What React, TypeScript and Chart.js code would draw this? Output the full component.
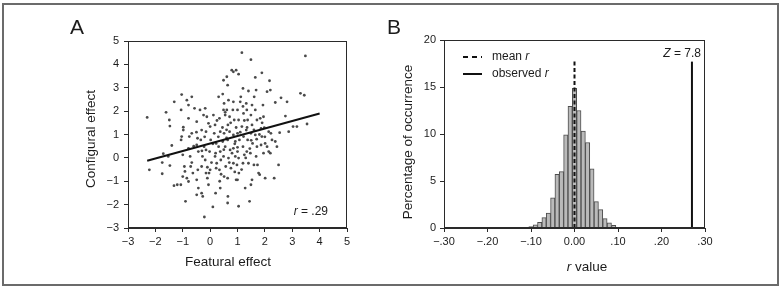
import { useEffect, useRef } from "react";
import { Chart, registerables } from "chart.js";
Chart.register(...registerables);

// ---------- Panel A data ----------
const featuralEffect = [
  -2.3, -2.22, -1.71, -1.75, -1.75, -1.61, -1.49, -1.47, -1.4, -1.53, -1.47, -1.31, -1.32, -1.2, -1.07,
  -1.04, -1.06, -0.98, -0.98, -1.04, -1.06, -1.0, -0.94, -0.92, -1.0, -0.9, -0.85, -0.79, -0.67, -0.79,
  -0.76, -0.67, -0.79, -0.73, -0.67, -0.71, -0.63, -0.85, -0.79, -0.57, -0.49, -0.46, -0.49, -0.43, -0.45,
  -0.49, -0.43, -0.49, -0.31, -0.27, -0.37, -0.24, -0.31, -0.34, -0.22, -0.28, -0.31, -0.18, -0.12, -0.06,
  -0.15, -0.15, -0.18, -0.15, -0.1, -0.06, -0.21, 0.0, 0.02, -0.02, 0.0, -0.04, 0.1, 0.12, 0.18,
  0.15, 0.22, 0.18, 0.24, 0.22, 0.2, 0.31, 0.34, 0.37, 0.31, 0.37, 0.39, 0.34, 0.37, 0.49,
  0.46, 0.51, 0.49, 0.55, 0.51, 0.46, 0.55, 0.49, 0.57, 0.51, 0.61, 0.64, 0.67, 0.61, 0.71,
  0.65, 0.71, 0.64, 0.73, 0.67, 0.76, 0.64, 0.65, 0.64, 0.79, 0.85, 0.95, 0.83, 0.88, 0.85,
  0.92, 0.85, 0.92, 0.85, 0.95, 1.0, 1.04, 1.0, 1.07, 1.0, 1.04, 0.98, 1.05, 1.0, 1.04,
  1.04, 1.1, 1.12, 1.16, 1.2, 1.22, 1.16, 1.22, 1.2, 1.25, 1.2, 1.28, 1.32, 1.34, 1.37,
  1.32, 1.37, 1.34, 1.4, 1.44, 1.4, 1.49, 1.53, 1.49, 1.53, 1.49, 1.55, 1.47, 1.53, 1.49,
  1.65, 1.68, 1.61, 1.65, 1.71, 1.65, 1.71, 1.68, 1.73, 1.77, 1.81, 1.83, 1.86, 1.89, 1.86,
  1.89, 1.93, 1.95, 1.98, 2.01, 1.95, 2.01, 2.08, 2.14, 2.08, 2.14, 2.17, 2.2, 2.22, 2.26,
  2.38, 2.38, 2.34, 2.44, 2.5, 2.54, 2.59, 2.75, 2.81, 2.87, 3.03, 3.17, 3.3, 3.44, 3.48,
  3.54, 0.3, 0.45, 0.6, 0.75, 0.9, 1.1, 1.25, 1.45, 1.6, 1.8, 0.1, 0.25, 0.55, 0.8,
  1.15, 1.35, 1.7, 1.9, 2.0, 0.4, 0.7, 0.95, 1.3, -0.2, -0.5, -0.6, -0.3, 0.05, 0.5,
  1.0, 1.5, 1.2, 0.85, 0.6, 0.2, -0.1, 0.35, 0.9, 1.6, 2.2,
];
const configuralEffect = [
  1.73, -0.51, 0.18, -0.2, -0.68, 1.95, 1.62, 1.36, 0.53, 0.06, -0.33, 2.4, -1.19, -1.15, -1.15,
  2.71, 2.05, 1.31, 1.19, 0.91, 0.77, 0.13, -0.37, -0.58, -0.8, -1.86, 2.47, 2.26, 2.61, 1.69,
  0.91, 1.05, 0.41, 0.06, -0.2, -0.37, -0.65, -0.87, -1.01, 2.12, 1.55, 0.84, 0.55, 0.27, -0.51,
  -0.94, -1.29, -1.58, -1.51, -1.65, 2.05, 1.83, 1.19, 0.77, 0.48, 0.06, -0.37, 2.12, 1.76, 1.48,
  1.12, 0.34, -0.09, -0.65, -0.87, -1.15, -2.53, 1.34, 0.77, 0.27, -0.51, -0.65, -2.1, 1.83, 1.41,
  1.05, 0.62, 0.06, -0.23, -0.44, -1.51, 2.61, 1.69, 1.12, 0.48, 0.27, -0.09, -0.51, -1.29, 3.32,
  2.73, 2.33, 2.05, 1.83, 1.05, 0.7, 0.48, 0.06, -0.37, -0.8, 3.47, 3.11, 2.47, 2.05, 1.76,
  1.41, 1.12, 0.77, 0.34, -0.01, -0.44, -0.87, -1.65, -1.93, 3.75, 3.68, 3.75, 2.05, 1.62, 0.98,
  0.7, 0.41, 0.06, -0.23, -0.94, 2.05, 1.62, 1.05, 0.77, 0.27, -0.01, -0.3, -0.65, -0.94, -2.07,
  3.58, 2.4, 2.61, 4.5, 2.97, 1.9, 1.34, 0.91, 0.48, 0.13, -0.23, -1.29, 2.33, 2.05, 1.62,
  1.19, 0.77, 0.27, -0.23, -1.86, 2.86, 4.2, 2.26, 1.83, 1.41, 1.05, 0.62, 0.2, -0.94, -1.15,
  3.44, 2.9, 2.61, 2.05, 1.62, 0.98, 0.48, 0.06, -0.3, -0.65, -0.72, 1.69, 1.26, 0.91, 0.55,
  3.64, 2.26, 1.76, 1.29, 0.62, 0.2, -0.87, 2.83, 1.12, 0.48, 0.27, 3.3, 2.9, 1.05, 0.77,
  2.37, 0.7, -0.87, 0.48, -0.3, 1.08, 2.57, 1.79, 2.4, 1.12, 1.34, 1.34, 2.76, 2.68, 4.36,
  1.45, 0.9, 1.3, 0.85, 1.5, 0.6, 1.1, 1.6, 0.4, 1.2, 1.0, 0.6, 1.6, 1.95, 0.2,
  -0.5, 1.3, 0.8, 1.5, 0.9, -0.7, -0.2, 1.3, 0.0, 0.9, 1.1, 0.5, 0.3, -0.2, 0.35,
  0.45, 0.75, 2.2, 2.4, 1.2, 0.2, -0.4, -1.0, -0.6, -0.3, 0.2,
];
const regressionX = [-2.3, 4.0];
const regressionY = [-0.12, 1.9];
const scatterTicks = [-3, -2, -1, 0, 1, 2, 3, 4, 5];

// ---------- Panel B data ----------
const rBins = [
  -0.1, -0.09, -0.08, -0.07, -0.06, -0.05, -0.04, -0.03, -0.02, -0.01, 0.0,
  0.01, 0.02, 0.03, 0.04, 0.05, 0.06, 0.07, 0.08, 0.09, 0.1,
];
const occurrence = [
  0.15, 0.35, 0.6, 1.1, 1.6, 3.2, 5.7, 6.0, 9.9, 12.95, 14.85,
  12.5, 10.3, 9.1, 6.3, 2.8, 1.95, 1.0, 0.55, 0.28, 0.05,
];
const meanR = 0.0;
const observedR = 0.27;
const markerTop = 17.7;
const rTicks = [-0.3, -0.2, -0.1, 0, 0.1, 0.2, 0.3];
const rTickLabels = ["\u2212.30", "\u2212.20", "\u2212.10", "0.00", ".10", ".20", ".30"];
const occurrenceTicks = [0, 5, 10, 15, 20];

const FONT = "Arial, 'Liberation Sans', Helvetica, sans-serif";
const TEXT = "#1c1c1c";
const AXIS = "#2a2a2a";

type Run = { t: string; i?: boolean };
function drawRuns(
  ctx: CanvasRenderingContext2D,
  runs: Run[],
  x: number,
  y: number,
  size: number,
  align: "left" | "center" | "right",
  rotate = 0
) {
  ctx.save();
  ctx.translate(x, y);
  if (rotate) ctx.rotate(rotate);
  ctx.textBaseline = "middle";
  ctx.textAlign = "left";
  ctx.fillStyle = TEXT;
  const fonts = runs.map((r) => `${r.i ? "italic " : ""}${size}px ${FONT}`);
  let total = 0;
  const widths = runs.map((r, k) => {
    ctx.font = fonts[k];
    const w = ctx.measureText(r.t).width;
    total += w;
    return w;
  });
  let cx = align === "left" ? 0 : align === "center" ? -total / 2 : -total;
  runs.forEach((r, k) => {
    ctx.font = fonts[k];
    ctx.fillText(r.t, cx, 0);
    cx += widths[k];
  });
  ctx.restore();
}

function frame(chart: any) {
  const { ctx, chartArea: a } = chart;
  ctx.save();
  ctx.strokeStyle = AXIS;
  ctx.lineWidth = 1;
  ctx.strokeRect(Math.round(a.left) + 0.5, Math.round(a.top) + 0.5, Math.round(a.right - a.left) - 1, Math.round(a.bottom - a.top) - 1);
  ctx.restore();
}

const tickFont = { family: FONT, size: 11 };

function axisCommon(tickLabelPad: number) {
  return {
    grid: { drawOnChartArea: false, drawTicks: true, tickLength: 4, color: AXIS },
    border: { display: true, color: AXIS, width: 1 },
    ticks: { color: TEXT, font: tickFont, padding: tickLabelPad, autoSkip: false, maxRotation: 0 },
    title: { display: false },
  };
}

export default function App() {
  const refA = useRef<HTMLCanvasElement | null>(null);
  const refB = useRef<HTMLCanvasElement | null>(null);

  useEffect(() => {
    const points = featuralEffect.map((x, i) => ({ x, y: configuralEffect[i] }));
    const reg = regressionX.map((x, i) => ({ x, y: regressionY[i] }));
    const minus = (v: number) => String(v).replace("-", "\u2212");

    const chartA = new Chart(refA.current as HTMLCanvasElement, {
      type: "scatter",
      data: {
        datasets: [
          {
            type: "line",
            label: "fit",
            data: reg,
            borderColor: "#111",
            borderWidth: 2,
            pointRadius: 0,
            fill: false,
            order: 0,
          } as any,
          {
            label: "participants",
            data: points,
            pointRadius: 1.4,
            pointBorderWidth: 0,
            pointBackgroundColor: "#4a4a4a",
            order: 1,
          },
        ],
      },
      options: {
        animation: false,
        responsive: false,
        events: [],
        layout: { padding: { left: 0, top: 41, right: 33, bottom: 0 } },
        plugins: { legend: { display: false }, tooltip: { enabled: false } },
        scales: {
          x: {
            type: "linear",
            min: -3,
            max: 5,
            ...axisCommon(3),
            afterBuildTicks: (s: any) => {
              s.ticks = scatterTicks.map((v) => ({ value: v }));
            },
            ticks: { ...axisCommon(3).ticks, callback: (v: any) => minus(v) },
            afterFit: (s: any) => {
              s.height = 61;
            },
          } as any,
          y: {
            type: "linear",
            min: -3,
            max: 5,
            ...axisCommon(5),
            afterBuildTicks: (s: any) => {
              s.ticks = scatterTicks.map((v) => ({ value: v }));
            },
            ticks: { ...axisCommon(5).ticks, callback: (v: any) => minus(v) },
            afterFit: (s: any) => {
              s.width = 128;
            },
          } as any,
        },
      },
      plugins: [
        {
          id: "annotA",
          afterDraw: (chart: any) => {
            const ctx = chart.ctx;
            frame(chart);
            drawRuns(ctx, [{ t: "A" }], 70, 28, 21, "left");
            drawRuns(ctx, [{ t: "Configural effect" }], 91, 139, 13.5, "center", -Math.PI / 2);
            drawRuns(ctx, [{ t: "Featural effect" }], 228, 262, 13.5, "center");
            drawRuns(ctx, [{ t: "r", i: true }, { t: " = .29" }], 328, 212, 12, "right");
          },
        },
      ],
    });

    const bars = rBins.map((x, i) => ({ x, y: occurrence[i] }));
    const chartB = new Chart(refB.current as HTMLCanvasElement, {
      type: "bar",
      data: {
        datasets: [
          {
            type: "line",
            label: "mean r",
            data: [
              { x: meanR, y: 0 },
              { x: meanR, y: markerTop },
            ],
            borderColor: "#111",
            borderWidth: 2,
            borderDash: [4, 2.5],
            pointRadius: 0,
            fill: false,
            order: 0,
          } as any,
          {
            type: "line",
            label: "observed r",
            data: [
              { x: observedR, y: 0 },
              { x: observedR, y: markerTop },
            ],
            borderColor: "#111",
            borderWidth: 2,
            pointRadius: 0,
            fill: false,
            order: 0,
          } as any,
          {
            type: "bar",
            label: "occurrence",
            data: bars,
            backgroundColor: "#bababa",
            borderColor: "#4d4d4d",
            borderWidth: 1,
            barPercentage: 1,
            categoryPercentage: 1,
            order: 1,
          } as any,
        ],
      },
      options: {
        animation: false,
        responsive: false,
        events: [],
        layout: { padding: { left: 0, top: 40, right: 77, bottom: 0 } },
        plugins: { legend: { display: false }, tooltip: { enabled: false } },
        scales: {
          x: {
            type: "linear",
            min: -0.3,
            max: 0.3,
            offset: false,
            ...axisCommon(3),
            grid: { ...axisCommon(3).grid, offset: false },
            afterBuildTicks: (s: any) => {
              s.ticks = rTicks.map((v) => ({ value: v }));
            },
            ticks: { ...axisCommon(3).ticks, callback: (_v: any, i: number) => rTickLabels[i] },
            afterFit: (s: any) => {
              s.height = 61;
            },
          } as any,
          y: {
            type: "linear",
            min: 0,
            max: 20,
            ...axisCommon(4),
            afterBuildTicks: (s: any) => {
              s.ticks = occurrenceTicks.map((v) => ({ value: v }));
            },
            ticks: { ...axisCommon(4).ticks, callback: (v: any) => String(v) },
            afterFit: (s: any) => {
              s.width = 64;
            },
          } as any,
        },
      },
      plugins: [
        {
          id: "annotB",
          afterDraw: (chart: any) => {
            const ctx = chart.ctx;
            frame(chart);
            drawRuns(ctx, [{ t: "B" }], 7, 28, 21, "left");
            drawRuns(ctx, [{ t: "Percentage of occurrence" }], 28, 142, 13.5, "center", -Math.PI / 2);
            drawRuns(ctx, [{ t: "r", i: true }, { t: " value" }], 207, 267, 13.5, "center");
            // legend
            ctx.save();
            ctx.strokeStyle = "#111";
            ctx.lineWidth = 2;
            ctx.setLineDash([5, 4]);
            ctx.beginPath();
            ctx.moveTo(83, 57);
            ctx.lineTo(102, 57);
            ctx.stroke();
            ctx.setLineDash([]);
            ctx.beginPath();
            ctx.moveTo(83, 74);
            ctx.lineTo(102, 74);
            ctx.stroke();
            ctx.restore();
            drawRuns(ctx, [{ t: "mean " }, { t: "r", i: true }], 112, 57, 12, "left");
            drawRuns(ctx, [{ t: "observed " }, { t: "r", i: true }], 112, 74, 12, "left");
            drawRuns(ctx, [{ t: "Z", i: true }, { t: " = 7.8" }], 321, 54, 12, "right");
          },
        },
      ],
    });

    return () => {
      chartA.destroy();
      chartB.destroy();
    };
  }, []);

  return (
    <div style={{ position: "fixed", left: 0, top: 0, width: 782, height: 289, background: "#fff", overflow: "hidden" }}>
      <div
        style={{
          position: "absolute",
          left: 2,
          top: 3,
          width: 777,
          height: 283,
          boxSizing: "border-box",
          border: "2px solid #6b6b6b",
        }}
      />
      <canvas ref={refA} width={380} height={289} style={{ position: "absolute", left: 0, top: 0, width: 380, height: 289 }} />
      <canvas ref={refB} width={402} height={289} style={{ position: "absolute", left: 380, top: 0, width: 402, height: 289 }} />
    </div>
  );
}
